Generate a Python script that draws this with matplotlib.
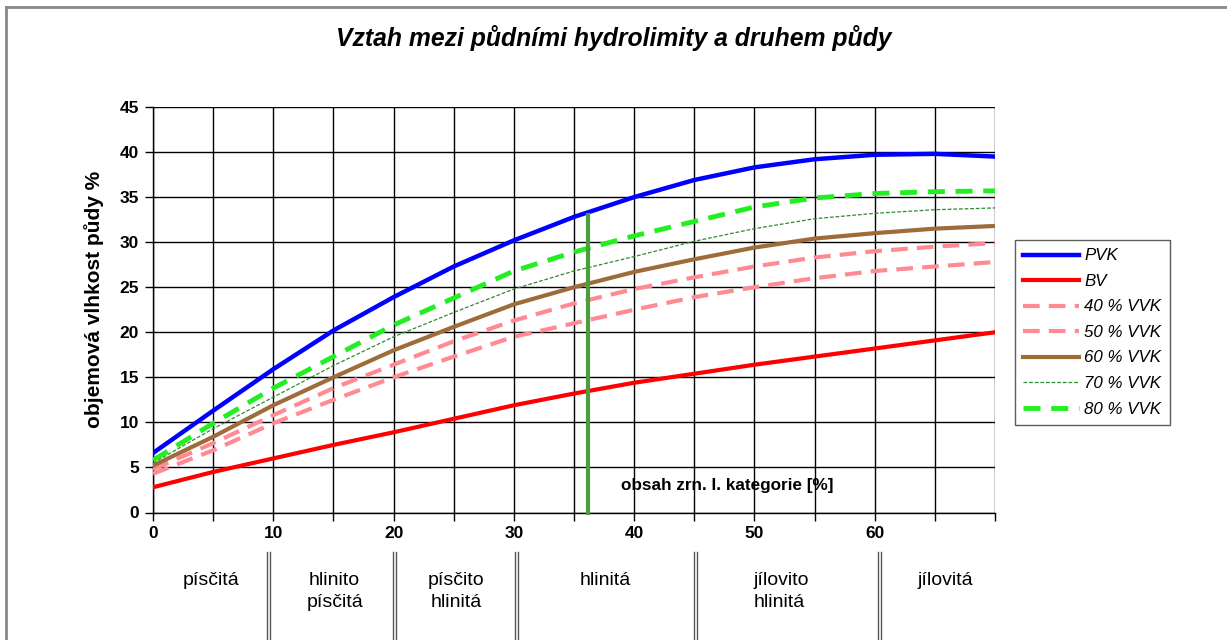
import matplotlib
matplotlib.use("Agg")
import matplotlib.pyplot as plt
from matplotlib.lines import Line2D

# ---- data ----
x_vals = [0, 5, 10, 15, 20, 25, 30, 35, 40, 45, 50, 55, 60, 65, 70]
pvk = [6.6, 11.3, 15.9, 20.2, 23.9, 27.3, 30.2, 32.8, 35.0, 36.9, 38.3, 39.2, 39.7, 39.8, 39.5]
bv = [2.8, 4.5, 6.0, 7.5, 8.9, 10.4, 11.9, 13.2, 14.4, 15.4, 16.4, 17.3, 18.2, 19.1, 20.0]
vvk40 = [4.3, 6.9, 9.9, 12.5, 15.0, 17.3, 19.5, 21.0, 22.5, 23.9, 25.0, 26.0, 26.8, 27.3, 27.8]
vvk50 = [4.8, 7.7, 10.8, 13.8, 16.4, 19.0, 21.3, 23.2, 24.8, 26.1, 27.3, 28.3, 29.0, 29.5, 29.9]
vvk60 = [5.2, 8.4, 11.9, 15.0, 18.0, 20.6, 23.1, 25.0, 26.7, 28.1, 29.4, 30.4, 31.0, 31.5, 31.8]
vvk70 = [5.5, 9.3, 12.8, 16.3, 19.5, 22.2, 24.8, 26.8, 28.4, 30.1, 31.5, 32.6, 33.2, 33.6, 33.8]
vvk80 = [5.8, 9.9, 13.8, 17.3, 20.8, 23.8, 26.8, 28.9, 30.7, 32.3, 33.9, 34.9, 35.4, 35.6, 35.7]

series_labels = ["PVK", "BV", "40 % VVK", "50 % VVK", "60 % VVK", "70 % VVK", "80 % VVK"]

marker_x = 36.2
marker_top = 33.0

soil_bounds = [9.6, 20.1, 30.2, 45.1, 60.4]
soil_labels = ["písčitá", "hlinito\npísčitá", "písčito\nhlinitá", "hlinitá", "jílovito\nhlinitá", "jílovitá"]
soil_label_x = [4.8, 15.1, 25.2, 37.6, 50.2, 65.9]

title = "Vztah mezi půdními hydrolimity a druhem půdy"
ylabel = "objemová vlhkost půdy %"
xnote = "obsah zrn. I. kategorie [%]"

# ---- figure ----
plt.rcParams['font.family'] = ['Liberation Sans', 'DejaVu Sans']
fig = plt.figure(figsize=(12.27, 6.4), dpi=100)
ax = fig.add_axes([153/1227, 127.5/640, 842/1227, 405.5/640])

ax.set_xlim(0, 70)
ax.set_ylim(0, 45)
ax.set_xticks(range(0, 71, 5))
ax.set_xticklabels([str(v) if (v % 10 == 0 and v < 70) else "" for v in range(0, 71, 5)])
ax.set_yticks(range(0, 46, 5))
ax.grid(True, color="black", linewidth=1.0)
ax.set_axisbelow(True)
for s in ["top", "right"]:
    ax.spines[s].set_visible(False)
for s in ["left", "bottom"]:
    ax.spines[s].set_linewidth(1.0)
ax.tick_params(axis="both", direction="out", length=6, width=1, labelsize=12.5, pad=4)
for lab in ax.get_xticklabels() + ax.get_yticklabels():
    lab.set_fontweight("bold")

ax.plot(x_vals, pvk, color="#0000ff", lw=3.2, label=series_labels[0], zorder=5)
ax.plot(x_vals, bv, color="#ff0000", lw=3.0, label=series_labels[1], zorder=5)
ax.plot(x_vals, vvk40, color="#ff8a94", lw=3.0, ls=(0, (4, 2.2)), label=series_labels[2], zorder=5)
ax.plot(x_vals, vvk50, color="#ff8a94", lw=3.0, ls=(0, (4, 2.2)), label=series_labels[3], zorder=5)
ax.plot(x_vals, vvk60, color="#9e6b3a", lw=3.0, label=series_labels[4], zorder=5)
ax.plot(x_vals, vvk70, color="#2e8b2e", lw=0.9, ls=(0, (3, 1.5)), label=series_labels[5], zorder=5)
ax.plot(x_vals, vvk80, color="#22ee22", lw=3.5, ls=(0, (3.5, 2.2)), label=series_labels[6], zorder=5)

ax.plot([marker_x, marker_x], [0, marker_top], color="#4c9e3c", lw=3.0, zorder=6, clip_on=False)
ax.text(47.7, 3.0, xnote, fontsize=12.3, fontweight="bold", ha="center", va="center", zorder=7)

ax.set_ylabel(ylabel, fontsize=15, fontweight="bold")
ax.yaxis.set_label_coords(-0.058, 0.525)

leg = ax.legend(loc="upper left", bbox_to_anchor=(1015/1227, (640-240)/640),
                bbox_transform=fig.transFigure, frameon=True, fancybox=False,
                edgecolor="#333333", handlelength=3.3, handletextpad=0.3,
                labelspacing=0.62, borderpad=0.5, borderaxespad=0,
                prop={"style": "italic", "size": 12.2})
leg.get_frame().set_linewidth(1.0)

# soil category separators and labels below the axis
trans = ax.get_xaxis_transform()
for b in soil_bounds:
    for dx in (-0.13, 0.13):
        ax.plot([b + dx, b + dx], [-0.0974, -0.33], color="#555555", lw=1.0,
                transform=trans, clip_on=False)
for lx, lab in zip(soil_label_x, soil_labels):
    if lab.startswith("jílovito\n"):
        ax.text(49.9, -0.146, lab, transform=trans, ha="left", va="top",
                fontsize=14, linespacing=1.4, multialignment="left")
    else:
        ax.text(lx, -0.146, lab, transform=trans, ha="center", va="top",
                fontsize=14, linespacing=1.4, multialignment="center")

fig.text(614/1227, 1 - 38/640, title, ha="center", va="center",
         fontsize=17.8, fontweight="bold", style="italic")

# outer frame (top and left edges visible in crop)
fig.add_artist(Line2D([6/1227, 6/1227], [0, 1 - 7/640], transform=fig.transFigure,
                      color="#888888", lw=2))
fig.add_artist(Line2D([6/1227, 1], [1 - 7/640, 1 - 7/640], transform=fig.transFigure,
                      color="#888888", lw=2))

fig.savefig("out.png", dpi=100)
